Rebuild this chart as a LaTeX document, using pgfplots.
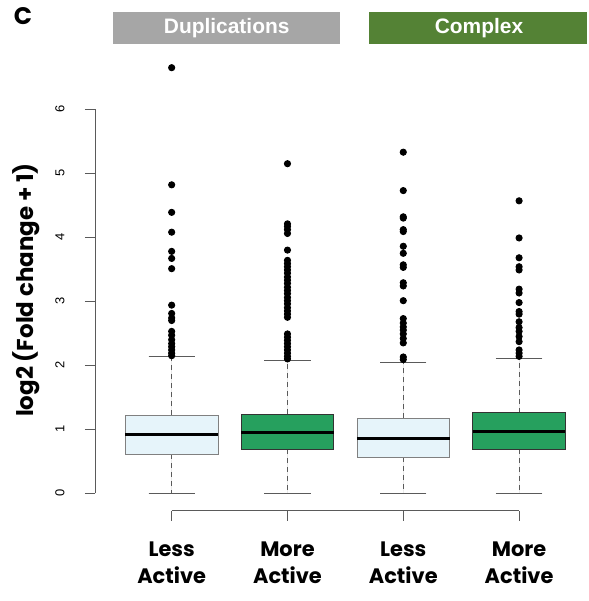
\documentclass[border=0pt]{standalone}
\usepackage{fontspec}
\setmainfont{Liberation Sans}
\newfontfamily\gothic{Poppins}
\usepackage{pgfplots}
\pgfplotsset{compat=1.18}
\usepgfplotslibrary{statistics}

\definecolor{lightbox}{RGB}{230,244,250}
\definecolor{greenbox}{RGB}{38,160,94}
\definecolor{dupgray}{RGB}{166,166,166}
\definecolor{cplxgreen}{RGB}{84,130,53}
\definecolor{rgray}{RGB}{90,90,90}

\pgfplotsset{
  boxplot/draw direction=y,
  boxplot/box extend=0.8,
  boxplot/whisker extend=0.4,
  boxplot/every median/.style={black, line width=3.2bp},
  boxplot/draw/lower whisker/.code={
    \draw[rgray, line width=0.9bp, dash pattern=on 5bp off 4bp]
      (boxplot box cs:\pgfplotsboxplotvalue{lower quartile},0.5) --
      (boxplot box cs:\pgfplotsboxplotvalue{lower whisker},0.5);
    \draw[rgray, line width=0.9bp]
      (boxplot whisker cs:\pgfplotsboxplotvalue{lower whisker},0) --
      (boxplot whisker cs:\pgfplotsboxplotvalue{lower whisker},1);
  },
  boxplot/draw/upper whisker/.code={
    \draw[rgray, line width=0.9bp, dash pattern=on 5bp off 4bp]
      (boxplot box cs:\pgfplotsboxplotvalue{upper quartile},0.5) --
      (boxplot box cs:\pgfplotsboxplotvalue{upper whisker},0.5);
    \draw[rgray, line width=0.9bp]
      (boxplot whisker cs:\pgfplotsboxplotvalue{upper whisker},0) --
      (boxplot whisker cs:\pgfplotsboxplotvalue{upper whisker},1);
  },
  outl/.style={mark=*, mark size=3.1bp, mark options={draw=black, fill=black, solid}},
  lessbox/.style={fill=lightbox, draw=gray, line width=0.9bp, outl},
  morebox/.style={fill=greenbox, draw=black!80, line width=0.9bp, outl},
}

\begin{document}
\begin{tikzpicture}
\path[use as bounding box] (-95bp,-90.4bp) rectangle (494bp,510.6bp);
\begin{axis}[
  at={(0,0)}, anchor=south west,
  scale only axis, width=476.2bp, height=449.3bp,
  xmin=0.338, xmax=4.45, ymin=-0.27, ymax=6.75,
  clip=false,
  axis line style={draw=none},
  xtick={1,2,3,4},
  xticklabels={{Less\\Active},{More\\Active},{Less\\Active},{More\\Active}},
  ytick={0,1,...,6},
  xtick pos=bottom, ytick pos=left,
  tick align=outside,
  major tick length=10bp,
  tick style={rgray, line width=0.9bp},
  xticklabel style={font=\gothic\bfseries\fontsize{21}{27}\selectfont, align=center},
  xticklabel shift=18bp,
  yticklabel style={font=\fontsize{13}{15}\selectfont, rotate=90, anchor=south},
  yticklabel shift=17bp,
  /pgf/number format/assume math mode=true,
  ylabel={log2 (Fold change + 1)},
  ylabel style={font=\gothic\bfseries\fontsize{23}{26}\selectfont,
    at={(rel axis cs:-0.145,0.491)}, anchor=center},
]
% axis lines in R style
\draw[rgray, line width=0.9bp] (axis cs:0.338,0) -- (axis cs:0.338,6);
\draw[rgray, line width=0.9bp] (axis cs:1,-0.27) -- (axis cs:4,-0.27);

% Duplications, less active
\addplot[lessbox, boxplot prepared={draw position=1,
  lower whisker=0, lower quartile=0.61, median=0.92,
  upper quartile=1.22, upper whisker=2.14}]
  table[row sep=\\, y index=0] {y\\ 6.65\\ 4.82\\ 4.39\\ 4.08\\ 3.78\\ 3.67\\ 3.51\\
  2.94\\ 2.81\\ 2.74\\ 2.70\\ 2.53\\ 2.47\\ 2.40\\ 2.34\\ 2.29\\ 2.24\\ 2.19\\ 2.15\\};

% Duplications, more active
\addplot[morebox, boxplot prepared={draw position=2,
  lower whisker=0, lower quartile=0.69, median=0.95,
  upper quartile=1.24, upper whisker=2.07}]
  table[row sep=\\, y index=0] {y\\ 5.15\\ 4.21\\ 4.17\\ 4.12\\ 4.06\\ 3.80\\ 3.64\\ 3.59\\
  3.54\\ 3.49\\ 3.44\\ 3.38\\ 3.33\\ 3.28\\ 3.22\\ 3.17\\ 3.12\\ 3.06\\ 3.01\\ 2.96\\
  2.90\\ 2.85\\ 2.80\\ 2.75\\ 2.49\\ 2.44\\ 2.39\\ 2.34\\ 2.29\\ 2.24\\ 2.19\\ 2.14\\ 2.10\\};

% Complex, less active
\addplot[lessbox, boxplot prepared={draw position=3,
  lower whisker=0, lower quartile=0.56, median=0.86,
  upper quartile=1.17, upper whisker=2.05}]
  table[row sep=\\, y index=0] {y\\ 5.33\\ 4.73\\ 4.32\\ 4.30\\ 4.12\\ 4.09\\ 3.86\\ 3.75\\
  3.57\\ 3.53\\ 3.29\\ 3.24\\ 3.01\\ 2.73\\ 2.66\\ 2.60\\ 2.55\\ 2.49\\ 2.42\\ 2.35\\ 2.13\\ 2.09\\};

% Complex, more active
\addplot[morebox, boxplot prepared={draw position=4,
  lower whisker=0, lower quartile=0.69, median=0.96,
  upper quartile=1.26, upper whisker=2.10}]
  table[row sep=\\, y index=0] {y\\ 4.57\\ 3.99\\ 3.68\\ 3.54\\ 3.49\\ 3.19\\ 3.13\\ 2.98\\
  2.84\\ 2.80\\ 2.68\\ 2.59\\ 2.53\\ 2.45\\ 2.37\\ 2.24\\ 2.19\\ 2.14\\};
\end{axis}

% group headers
\fill[dupgray] (18.3bp,466.6bp) rectangle (245bp,498.9bp);
\node[text=white, font=\bfseries\fontsize{21}{24}\selectfont] at (131.7bp,482.6bp) {Duplications};
\fill[cplxgreen] (274.3bp,466.6bp) rectangle (492bp,498.9bp);
\node[text=white, font=\bfseries\fontsize{21}{24}\selectfont] at (384bp,482.6bp) {Complex};
\node[font=\gothic\bfseries\fontsize{24}{26}\selectfont] at (-72bp,495bp) {C};
\end{tikzpicture}
\end{document}
